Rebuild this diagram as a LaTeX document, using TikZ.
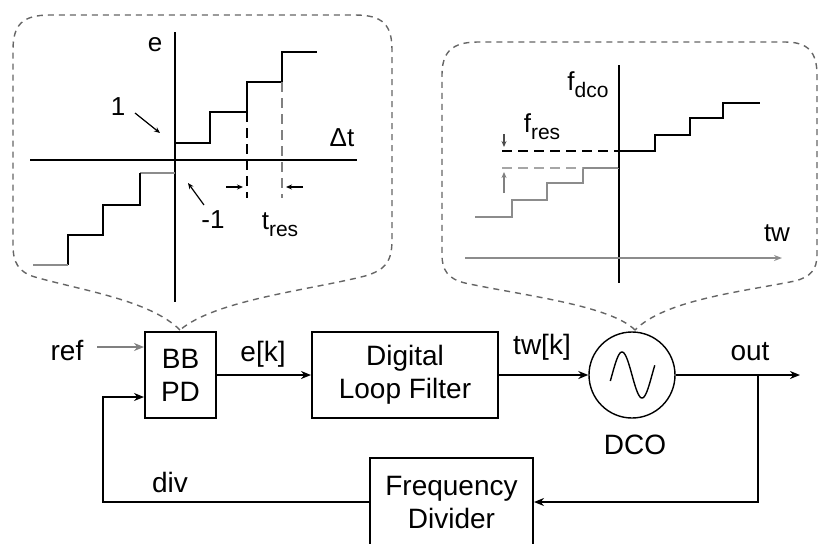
\documentclass[tikz,border=0pt]{standalone}
\usepackage{fontspec}
\setmainfont{Liberation Sans}
\usetikzlibrary{arrows.meta,calc}
\newcommand\mysub[1]{\raisebox{-0.5ex}{\fontsize{10.5}{10.5}\selectfont #1}}
\begin{document}
\begin{tikzpicture}[x=0.5pt,y=-0.5pt,
  font=\fontsize{14}{16.5}\selectfont,
  blk/.style={draw,line width=1pt,align=center,inner sep=0pt},
  wire/.style={line width=0.8pt},
  arr/.style={wire,-{Stealth[length=5pt,width=4pt]}},
  callout/.style={draw=black!60,line width=0.7pt,dash pattern=on 3pt off 2.5pt},
  stair/.style={line width=1pt},
  axis/.style={line width=0.9pt},
  plbl/.style={inner sep=0pt,font=\fontsize{13}{15}\selectfont},
  lbl/.style={inner sep=0pt},
  small arr/.style={line width=0.6pt,-{Stealth[length=3pt,width=2.5pt]}}]
\useasboundingbox (0,0) rectangle (820,543);

% ---------- callouts ----------
\draw[callout] (180,330) .. controls (150,300) and (80,290) .. (35,277)
  .. controls (18,272) and (13,262) .. (13,245) -- (13,50)
  .. controls (13,25) and (22,15) .. (50,15) -- (355,15)
  .. controls (383,15) and (392,25) .. (392,50) -- (392,240)
  .. controls (392,262) and (385,270) .. (365,276)
  .. controls (310,290) and (215,300) .. (180,330);
\draw[callout] (635,330) .. controls (610,305) and (520,295) .. (465,283)
  .. controls (448,279) and (442,270) .. (442,255) -- (442,75)
  .. controls (442,52) and (452,42) .. (478,42) -- (785,42)
  .. controls (808,42) and (817,52) .. (817,75) -- (817,255)
  .. controls (817,270) and (810,277) .. (795,281)
  .. controls (740,292) and (665,300) .. (635,330);

% ---------- left plot (BBPD characteristic) ----------
\draw[axis] (175,32) -- (175,302);
\draw[axis] (30,160) -- (357,160);
\draw[stair] (175,143) -- (210,143) -- (210,112) -- (247,112) -- (247,82) -- (282,82) -- (282,52) -- (317,52);
\draw[stair,black!45] (175,173) -- (140,173);
\draw[stair] (140,173) -- (140,205) -- (103,205) -- (103,235) -- (68,235) -- (68,265);
\draw[stair,black!45] (68,265) -- (33,265);
\draw[line width=0.9pt,dash pattern=on 5pt off 3pt] (247,112) -- (247,198);
\draw[line width=0.9pt,dash pattern=on 5pt off 3pt,black!50] (282,82) -- (282,198);
\draw[small arr] (226,187) -- (243,187);
\draw[small arr] (303,187) -- (286,187);
\draw[small arr] (135,113) -- (160,133);
\draw[small arr] (204,205) -- (188,183);
\node[plbl] (le) at (155,45) {e};
\node[plbl] (ldt) at (342,138) {Δt};
\node[plbl] (lone) at (118,107) {1};
\node[plbl] (lmone) at (213,220) {-1};
\node[plbl] (ltres) at (280,225) {t\mysub{res}};

% ---------- right plot (DCO characteristic) ----------
\draw[axis] (619,65) -- (619,283);
\draw[axis,black!45,-{Stealth[length=4pt,width=3pt]}] (465,258) -- (782,258);
\draw[stair,black!45] (619,168) -- (583,168) -- (583,183) -- (547,183) -- (547,200) -- (512,200) -- (512,217) -- (475,217);
\draw[stair] (619,168) -- (619,151) -- (655,151) -- (655,135) -- (690,135) -- (690,118) -- (723,118) -- (723,103) -- (760,103);
\draw[line width=0.9pt,dash pattern=on 5pt off 3pt] (502,151) -- (619,151);
\draw[line width=0.9pt,dash pattern=on 5pt off 3pt,black!35] (502,168) -- (583,168);
\draw[small arr,black!70] (504,134) -- (504,147);
\draw[small arr,black!50] (504,193) -- (504,172);
\node[plbl] (rfdco) at (588,85) {f\mysub{dco}};
\node[plbl] (rfres) at (542,127) {f\mysub{res}};
\node[plbl] (rtw) at (777,233) {tw};

% ---------- block diagram ----------
\node[blk,minimum width=35.5pt,minimum height=43pt] (BB) at (180.5,375) {BB\\PD};
\node[blk,minimum width=93pt,minimum height=43pt] (DLF) at (405,375) {Digital\\Loop Filter};
\node[draw,circle,line width=0.7pt,minimum size=43pt,inner sep=0pt] (DCO) at (632,375) {};
\draw[line width=0.7pt] plot[domain=-15:385,samples=60] ({612+\x*40/360},{375-23*sin(\x)});
\node[blk,minimum width=81.5pt,minimum height=44pt] (FD) at (451.5,502) {Frequency\\Divider};

\node[lbl] (lref) at (67,350) {ref};
\node[lbl] (lek) at (263,354) {e[k]};
\node[lbl] (ltwk) at (542,347) {tw[k]};
\node[lbl] (lout) at (750,352) {out};
\node[lbl] (ldiv) at (170,482) {div};
\node[lbl] (ldco) at (635,445) {DCO};

\coordinate (refin) at (97,347);
\coordinate (fbk) at (103,397);
\coordinate (br) at (758,375);
\coordinate (oend) at (800,375);

\draw[arr,black!50] (refin) -- (refin -| BB.west);
\draw[arr] (BB.east) -- (DLF.west);
\draw[arr] (DLF.east) -- (DCO.west);
\draw[arr] (DCO.east) -- (oend);
\draw[arr] (br) |- (FD.east);
\draw[arr] (FD.west) -| (fbk) -- (fbk -| BB.west);
\end{tikzpicture}
\end{document}
